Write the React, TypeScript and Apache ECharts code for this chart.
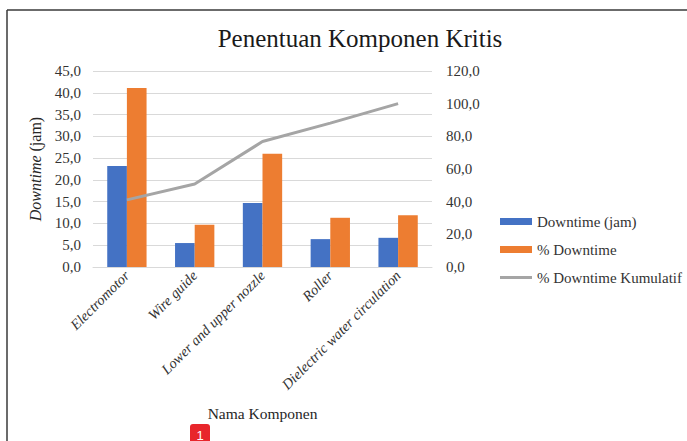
import React, { useEffect, useRef } from "react";
import * as echarts from "echarts";

const categories = ["Electromotor", "Wire guide", "Lower and upper nozzle", "Roller", "Dielectric water circulation"];
const downtimeJam = [23.2, 5.5, 14.7, 6.4, 6.7];
const downtimePct = [41.1, 9.7, 26.0, 11.3, 11.9];
const downtimeKumulatif = [41.1, 50.8, 76.8, 88.1, 100.0];

const SERIF = "'Liberation Serif', 'Times New Roman', serif";
const fmt = (v: number) => v.toFixed(1).replace(".", ",");

export default function App() {
  const ref = useRef<HTMLDivElement>(null);
  useEffect(() => {
    document.body.style.margin = "0";
    const chart = echarts.init(ref.current!, null, { renderer: "svg" });
    chart.setOption({
      animation: false,
      backgroundColor: "#ffffff",
      textStyle: { fontFamily: SERIF },
      title: {
        text: "Penentuan Komponen Kritis",
        left: 355,
        top: 21,
        textAlign: "center",
        textStyle: { fontFamily: SERIF, fontSize: 25, fontWeight: "normal", color: "#1a1a1a" },
      },
      grid: { left: 93, right: 255, top: 71, bottom: 174, containLabel: false },
      legend: {
        orient: "vertical",
        left: 495,
        top: 209,
        itemWidth: 32,
        itemHeight: 7,
        itemGap: 13,
        textStyle: { fontFamily: SERIF, fontSize: 15, color: "#333333" },
        data: [
          { name: "Downtime (jam)", icon: "rect" },
          { name: "% Downtime", icon: "rect" },
          { name: "% Downtime Kumulatif", icon: "path://M0,0 L32,0 L32,3 L0,3 Z", itemStyle: { color: "#a5a5a5" } },
        ],
      },
      xAxis: {
        type: "category",
        data: categories,
        name: "Nama Komponen",
        nameLocation: "middle",
        nameGap: 138,
        nameTextStyle: { fontFamily: SERIF, fontSize: 15.5, color: "#262626" },
        axisLine: { lineStyle: { color: "#d9d9d9" } },
        axisTick: { show: false },
        axisLabel: {
          rotate: 45,
          interval: 0,
          margin: 6,
          fontFamily: SERIF,
          fontStyle: "italic",
          fontSize: 14.5,
          color: "#333333",
        },
      },
      yAxis: [
        {
          type: "value",
          min: 0,
          max: 45,
          interval: 5,
          name: "{i|Downtime} (jam)",
          nameLocation: "middle",
          nameGap: 50,
          nameRotate: 90,
          nameTextStyle: {
            fontFamily: SERIF,
            fontSize: 16,
            color: "#262626",
            rich: { i: { fontFamily: SERIF, fontSize: 16, fontStyle: "italic", color: "#262626" } },
          },
          axisLine: { show: false },
          axisTick: { show: false },
          splitLine: { lineStyle: { color: "#d9d9d9" } },
          axisLabel: { formatter: fmt, margin: 12, fontFamily: SERIF, fontSize: 15, color: "#333333" },
        },
        {
          type: "value",
          min: 0,
          max: 120,
          interval: 20,
          axisLine: { show: false },
          axisTick: { show: false },
          splitLine: { show: false },
          axisLabel: { formatter: fmt, margin: 14, fontFamily: SERIF, fontSize: 15, color: "#333333" },
        },
      ],
      series: [
        {
          name: "Downtime (jam)",
          type: "bar",
          data: downtimeJam,
          barGap: "0%",
          barCategoryGap: "42%",
          itemStyle: { color: "#4472c4" },
        },
        {
          name: "% Downtime",
          type: "bar",
          data: downtimePct,
          barGap: "0%",
          barCategoryGap: "42%",
          itemStyle: { color: "#ed7d31" },
        },
        {
          name: "% Downtime Kumulatif",
          type: "line",
          yAxisIndex: 1,
          data: downtimeKumulatif,
          symbol: "none",
          lineStyle: { color: "#a5a5a5", width: 3 },
          itemStyle: { color: "#a5a5a5" },
        },
      ],
      graphic: [
        { type: "line", shape: { x1: 7, y1: 10, x2: 700, y2: 10 }, style: { stroke: "#3a3a3a", lineWidth: 1.5 } },
        { type: "line", shape: { x1: 7, y1: 10, x2: 7, y2: 450 }, style: { stroke: "#3a3a3a", lineWidth: 1.5 } },
        {
          type: "group",
          left: 190,
          top: 424,
          children: [
            { type: "rect", shape: { x: 0, y: 0, width: 20, height: 22, r: 3 }, style: { fill: "#e8262b" } },
            {
              type: "text",
              style: { text: "1", x: 10, y: 11, align: "center", verticalAlign: "middle", fill: "#ffffff", fontSize: 13, fontFamily: "'Liberation Sans', Arial, sans-serif" },
            },
          ],
        },
      ],
    });
    return () => chart.dispose();
  }, []);
  return <div ref={ref} style={{ position: "fixed", left: 0, top: 0, width: 687, height: 441 }} />;
}
